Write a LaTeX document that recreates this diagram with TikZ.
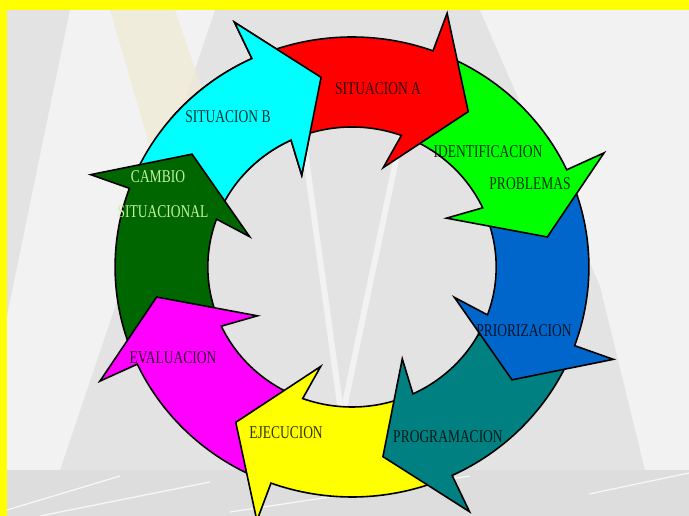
\documentclass[tikz,border=0pt]{standalone}
\usepackage{fontspec}
\setmainfont{Liberation Serif}
\usetikzlibrary{calc}
\definecolor{CYellow}{HTML}{FFFF00}
\definecolor{CBack}{HTML}{E3E3E3}
\definecolor{CLight}{HTML}{F2F2F2}
\definecolor{CFloor}{HTML}{DDDDDD}
\definecolor{CSand}{HTML}{F0EAD4}
\definecolor{SegRed}{HTML}{FF0000}
\definecolor{SegGreen}{HTML}{00FF00}
\definecolor{SegBlue}{HTML}{0066CC}
\definecolor{SegTeal}{HTML}{008080}
\definecolor{SegYellow}{HTML}{FFFF00}
\definecolor{SegMagenta}{HTML}{FF00FF}
\definecolor{SegDark}{HTML}{006600}
\definecolor{SegCyan}{HTML}{00FFFF}
\definecolor{SegText}{HTML}{C4F2A0}
\tikzset{
    ringseg/.style={draw=black, line width=1.6pt, line join=miter, miter limit=20},
    ringtext/.style={font=\fontsize{18}{18}\selectfont, xscale=0.75, text=black, text opacity=0.8, inner sep=0pt},
    lighttext/.style={ringtext, text=SegText, text opacity=1},
    streak/.style={fill=CLight, draw=none},
    floorline/.style={draw=white, line width=1.2pt, opacity=0.8}
}
\newcommand{\Rout}{230}
\newcommand{\Rin}{140}
% one ring arrow: #1 = angle of the back of its head, #2 = fill
\newcommand{\drawseg}[2]{%
    \path[ringseg, fill=#2] ({#1+42}:\Rout) arc[start angle={#1+42}, end angle=#1, radius=\Rout]
        -- (#1:270) -- ({#1-16}:192) -- ({#1+3}:104) -- (#1:\Rin)
        arc[start angle=#1, end angle={#1+42}, radius=\Rin] -- cycle;}

\begin{document}
\begin{tikzpicture}[x=1pt, y=1pt]
    \useasboundingbox (0,0) rectangle (689,516);

    % Background
    \fill[CYellow] (0,0) rectangle (689,516);
    \fill[CBack] (7,0) rectangle (689,506);
    \fill[streak] (70,506) -- (215,506) -- (60,46) -- (7,46) -- (7,200) -- cycle;
    \fill[CSand, opacity=0.7] (110,506) -- (175,506) -- (235,330) -- (170,300) -- cycle;
    \fill[streak] (480,506) -- (689,506) -- (689,46) -- (645,46) -- (600,230) -- cycle;
    \fill[streak] (300,380) -- (306,380) -- (352,46) -- (346,46) -- cycle;
    \fill[streak] (398,380) -- (404,380) -- (334,46) -- (328,46) -- cycle;
    \fill[CFloor] (7,0) rectangle (689,46);
    \draw[floorline] (7,6) -- (120,40);
    \draw[floorline] (40,0) -- (210,34);
    \draw[floorline] (230,4) -- (470,40);
    \draw[floorline] (589,22) -- (689,43);

    % Ring
    \begin{scope}[shift={(352,249)}, xscale=1.03]
        \foreach \ang/\col in {115/SegCyan, 160/SegDark, 205/SegMagenta, 250/SegYellow,
                               295/SegTeal, 340/SegBlue, 25/SegGreen, 70/SegRed}
            \drawseg{\ang}{\col};
        % cyan head again, over the red tail
        \begin{scope}
            \clip (0,0) -- (60:400) -- (100:400) -- (140:400) -- cycle;
            \drawseg{115}{SegCyan};
        \end{scope}
    \end{scope}

    % Labels
    \node[ringtext] (sitA) at (378,427) {SITUACION A};
    \node[ringtext] (sitB) at (228,399) {SITUACION B};
    \node[ringtext] (ident) at (488,364) {IDENTIFICACION};
    \node[ringtext] (probl) at (530,332) {PROBLEMAS};
    \node[ringtext] (prior) at (524,185) {PRIORIZACION};
    \node[ringtext] (progr) at (448,79) {PROGRAMACION};
    \node[ringtext] (ejec) at (286,83) {EJECUCION};
    \node[ringtext] (evalu) at (173,158) {EVALUACION};
    \node[lighttext] (cambio) at (158,339) {CAMBIO};
    \node[lighttext] (situa) at (163,304) {SITUACIONAL};
\end{tikzpicture}
\end{document}
